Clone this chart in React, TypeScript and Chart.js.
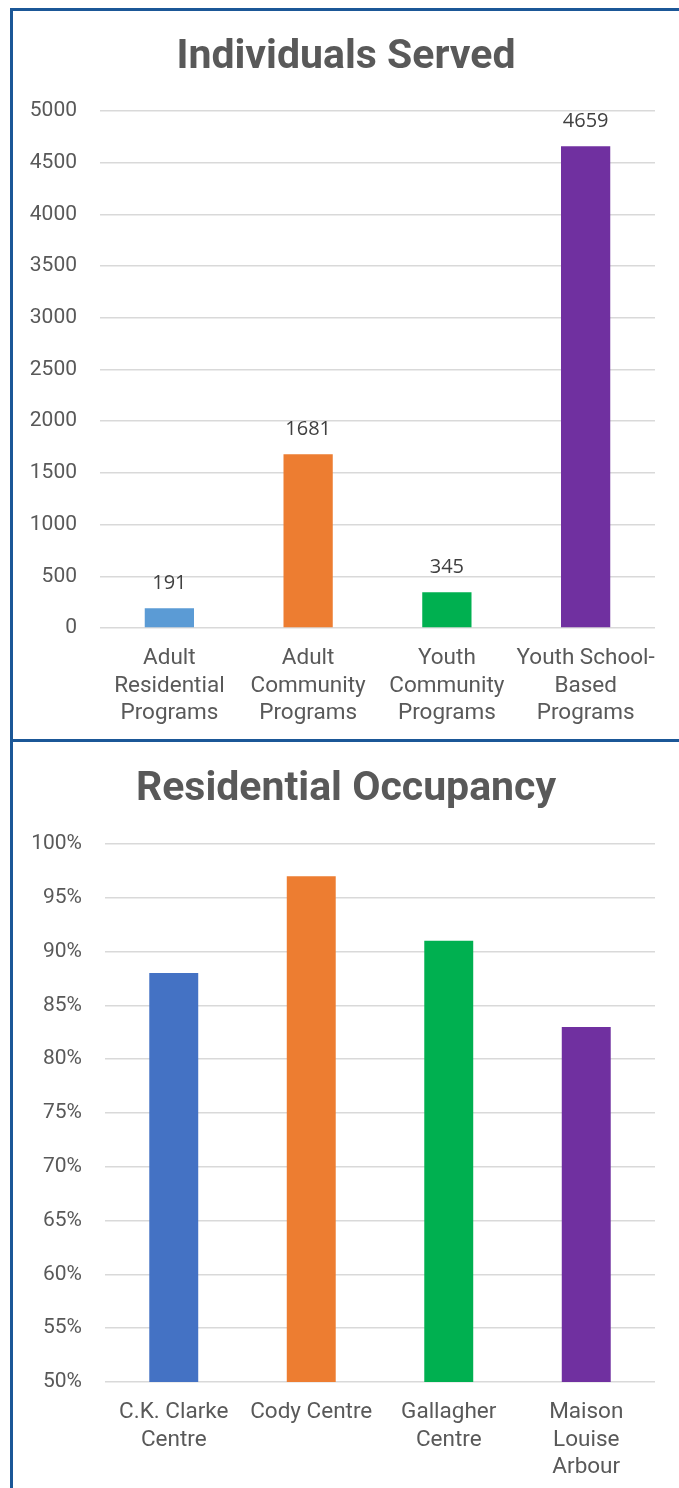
import React, { useEffect, useRef } from "react";
import { Chart, registerables } from "chart.js";

Chart.register(...registerables);

// ---- Data ----
const servedTitle = "Individuals Served";
const servedCategories = [
  ["Adult", "Residential", "Programs"],
  ["Adult", "Community", "Programs"],
  ["Youth", "Community", "Programs"],
  ["Youth School-", "Based", "Programs"],
];
const servedValues = [191, 1681, 345, 4659];
const servedColors = ["#5B9BD5", "#ED7D31", "#00B050", "#7030A0"];
const servedTicks = { min: 0, max: 5000, step: 500 };

const occTitle = "Residential Occupancy";
const occCategories = [
  ["C.K. Clarke", "Centre"],
  ["Cody Centre"],
  ["Gallagher", "Centre"],
  ["Maison", "Louise", "Arbour"],
];
const occValues = [88, 97, 91, 83]; // percent
const occColors = ["#4472C4", "#ED7D31", "#00B050", "#7030A0"];
const occTicks = { min: 50, max: 100, step: 5 };

const BORDER = "#1B5797";
const TEXT = "#595959";
const TITLE_FONT = 'Roboto, "Noto Sans", sans-serif';
const AXIS_FONT = 'Roboto, "Noto Sans", sans-serif';

const valueLabelPlugin = {
  id: "valueLabels",
  afterDatasetsDraw(chart: any, _args: any, opts: any) {
    if (!opts || !opts.display) return;
    const ctx = chart.ctx;
    const meta = chart.getDatasetMeta(0);
    const data = chart.data.datasets[0].data;
    ctx.save();
    ctx.font = '20px "Open Sans", sans-serif';
    ctx.fillStyle = "#404040";
    ctx.textAlign = "center";
    ctx.textBaseline = "middle";
    meta.data.forEach((el: any, i: number) => {
      ctx.fillText(String(data[i]), el.x, el.y - 25);
    });
    ctx.restore();
  },
};

type Cfg = {
  title: string;
  labels: string[][];
  values: number[];
  colors: string[];
  ticks: { min: number; max: number; step: number };
  yWidth: number;
  xHeight: number;
  titleTop: number;
  titleBottom: number;
  suffix: string;
  showValues: boolean;
  barPct: number;
};

function BarChart({ cfg, height }: { cfg: Cfg; height: number }) {
  const ref = useRef<HTMLCanvasElement | null>(null);
  useEffect(() => {
    if (!ref.current) return;
    const chart = new Chart(ref.current, {
      type: "bar",
      data: {
        labels: cfg.labels,
        datasets: [
          {
            data: cfg.values,
            backgroundColor: cfg.colors,
            borderWidth: 0,
            categoryPercentage: 1,
            barPercentage: cfg.barPct,
            yAxisID: "y",
          },
        ],
      },
      plugins: [valueLabelPlugin],
      options: {
        animation: false,
        responsive: false,
        maintainAspectRatio: false,
        layout: { padding: 0 },
        plugins: {
          legend: { display: false },
          tooltip: { enabled: false },
          title: {
            display: true,
            text: cfg.title,
            color: TEXT,
            font: { family: TITLE_FONT, size: 41, weight: "bold", lineHeight: 1.2 },
            padding: { top: cfg.titleTop, bottom: cfg.titleBottom },
          },
          valueLabels: { display: cfg.showValues },
        } as any,
        scales: {
          x: {
            afterFit(scale: any) {
              scale.height = cfg.xHeight;
            },
            grid: { display: false, drawTicks: false },
            border: { display: false },
            ticks: {
              color: TEXT,
              font: { family: AXIS_FONT, size: 22.5, lineHeight: 1.22 },
              padding: 17,
              maxRotation: 0,
              autoSkip: false,
            },
          },
          y: {
            min: cfg.ticks.min,
            max: cfg.ticks.max,
            afterFit(scale: any) {
              scale.width = cfg.yWidth;
            },
            grid: { color: "#D9D9D9", lineWidth: 1.5, drawTicks: false },
            border: { display: false },
            ticks: {
              stepSize: cfg.ticks.step,
              color: TEXT,
              font: { family: AXIS_FONT, size: 21 },
              padding: 23,
              callback: (v: any) => `${v}${cfg.suffix}`,
            },
          },
          yRightSpace: {
            type: "linear",
            position: "right",
            display: true,
            afterFit(scale: any) {
              scale.width = 24;
            },
            grid: { display: false, drawTicks: false },
            border: { display: false },
            ticks: { display: false },
          },
        },
      } as any,
    });
    return () => chart.destroy();
  }, []);
  return <canvas ref={ref} width={666} height={height} style={{ display: "block", width: 666, height }} />;
}

const servedCfg: Cfg = {
  title: servedTitle,
  labels: servedCategories,
  values: servedValues,
  colors: servedColors,
  ticks: servedTicks,
  yWidth: 87,
  xHeight: 111,
  titleTop: 22.3,
  titleBottom: 28.5,
  suffix: "",
  showValues: true,
  barPct: 0.355,
};

const occCfg: Cfg = {
  title: occTitle,
  labels: occCategories,
  values: occValues,
  colors: occColors,
  ticks: occTicks,
  yWidth: 92,
  xHeight: 106,
  titleTop: 23.3,
  titleBottom: 29.5,
  suffix: "%",
  showValues: false,
  barPct: 0.356,
};

export default function App() {
  return (
    <div
      style={{
        position: "absolute",
        left: 0,
        top: 0,
        width: 679,
        height: 1488,
        overflow: "hidden",
        background: "#fff",
      }}
    >
      {/* left border */}
      <div style={{ position: "absolute", left: 10, top: 8, width: 3, height: 1480, background: BORDER }} />
      {/* top border */}
      <div style={{ position: "absolute", left: 10, top: 8, width: 669, height: 3, background: BORDER }} />
      {/* divider */}
      <div style={{ position: "absolute", left: 10, top: 739, width: 669, height: 3, background: BORDER }} />
      <div style={{ position: "absolute", left: 13, top: 11 }}>
        <BarChart cfg={servedCfg} height={728} />
      </div>
      <div style={{ position: "absolute", left: 13, top: 742 }}>
        <BarChart cfg={occCfg} height={746} />
      </div>
    </div>
  );
}
